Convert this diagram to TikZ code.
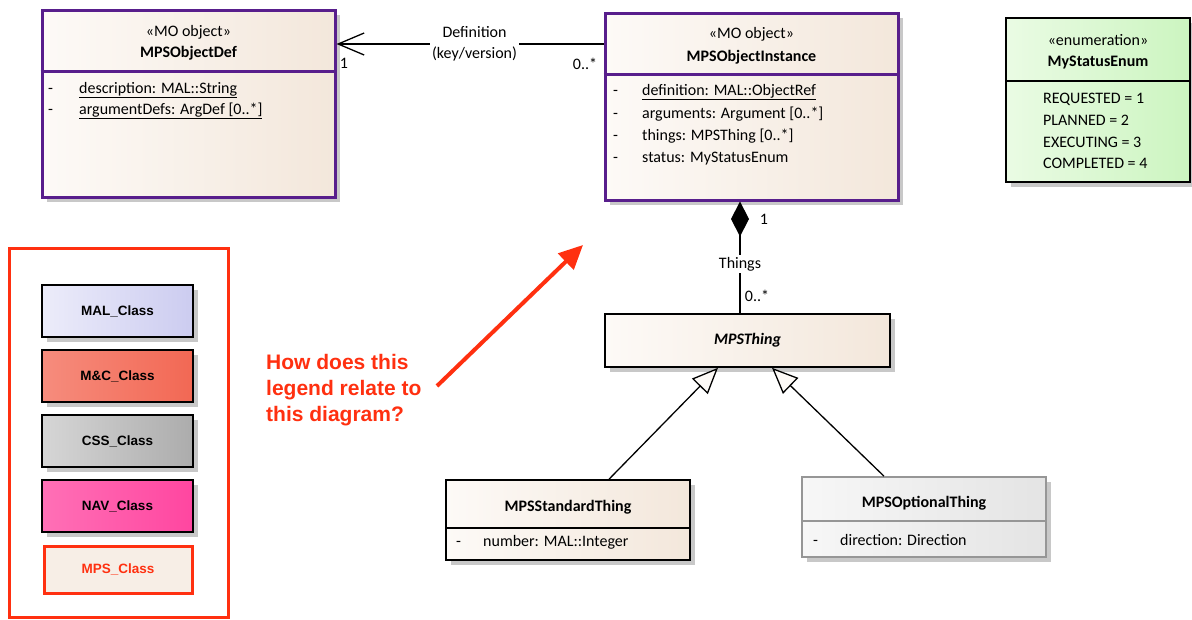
\documentclass[tikz,border=0pt]{standalone}
\usepackage{fontspec}
\setmainfont{Carlito}
\newfontfamily\legendfont{Liberation Sans}
\usetikzlibrary{arrows.meta,shadows}

\definecolor{moborder}{RGB}{88,30,140}
\definecolor{mpslight}{RGB}{253,250,247}
\definecolor{mpsdark}{RGB}{243,231,219}
\definecolor{enumlight}{RGB}{234,251,228}
\definecolor{enumdark}{RGB}{204,245,192}
\definecolor{optlight}{RGB}{247,247,247}
\definecolor{optdark}{RGB}{228,228,228}
\definecolor{optborder}{RGB}{150,150,150}
\definecolor{malleft}{RGB}{236,236,250}
\definecolor{malright}{RGB}{204,204,240}
\definecolor{mcleft}{RGB}{246,140,125}
\definecolor{mcright}{RGB}{242,104,84}
\definecolor{cssleft}{RGB}{214,214,214}
\definecolor{cssright}{RGB}{172,172,172}
\definecolor{navleft}{RGB}{255,112,182}
\definecolor{navright}{RGB}{255,70,160}
\definecolor{alertred}{RGB}{255,48,16}
\definecolor{shadowgrey}{RGB}{200,200,200}

\newcommand{\umlfont}{\fontsize{16}{21}\selectfont}

\begin{document}
\begin{tikzpicture}[
    x=1pt, y=-1pt,
    font=\umlfont,
    umlshadow/.style={drop shadow={shadow xshift=5pt, shadow yshift=-5pt, fill=shadowgrey, opacity=1}},
    moobj/.style={rectangle, draw=moborder, line width=3pt, left color=mpslight, right color=mpsdark, umlshadow},
    mpsbox/.style={rectangle, draw=black, line width=1.6pt, left color=mpslight, right color=mpsdark, umlshadow},
    enumbox/.style={rectangle, draw=black, line width=1.6pt, left color=enumlight, right color=enumdark, umlshadow},
    optbox/.style={rectangle, draw=optborder, line width=1.6pt, left color=optlight, right color=optdark, umlshadow},
    legbox/.style={rectangle, draw=black, line width=1.6pt, minimum width=151pt, minimum height=52pt, umlshadow, font=\legendfont\bfseries\fontsize{13.5}{16}\selectfont},
    moline/.style={draw=moborder, line width=3pt},
    txt/.style={anchor=base, inner sep=0pt},
    attr/.style={anchor=base west, inner sep=0pt},
    lbl/.style={inner sep=1pt},
    assoc/.style={line width=1.3pt},
    comp/.style={line width=1.3pt, -{Diamond[length=35pt, width=18pt]}},
    gen/.style={line width=1.3pt, -{Triangle[length=26pt, width=22pt, fill=mpslight]}},
    question/.style={align=left, inner sep=0pt, text=alertred, font=\legendfont\bfseries\fontsize{21}{26}\selectfont},
    alertarrow/.style={draw=alertred, line width=4pt, -{Triangle[length=24pt, width=22pt]}}
]
\useasboundingbox (0,0) rectangle (1192,619);

% MO object: definition
\node[moobj, minimum width=293pt, minimum height=187pt] (def) at (188.5,103.5) {};
\draw[moline] (def.west |- 0,71) -- (def.east |- 0,71);
\node[txt] (def-st) at (def.north |- 0,36) {«MO object»};
\node[txt, font=\umlfont\bfseries] (def-name) at (def.north |- 0,57) {MPSObjectDef};
\node[attr] (def-d1) at (48,93) {-};
\node[attr] (def-a1) at (79,93) {\underline{description: MAL::String}};
\node[attr] (def-d2) at (48,114) {-};
\node[attr] (def-a2) at (79,114) {\underline{argumentDefs: ArgDef [0..*]}};

% MO object: instance
\node[moobj, minimum width=293pt, minimum height=187pt] (inst) at (751.5,106.5) {};
\draw[moline] (inst.west |- 0,74) -- (inst.east |- 0,74);
\node[txt] (inst-st) at (inst.north |- 0,38) {«MO object»};
\node[txt, font=\umlfont\bfseries] (inst-name) at (inst.north |- 0,61) {MPSObjectInstance};
\node[attr] (inst-d1) at (613,95) {-};
\node[attr] (inst-a1) at (642,95) {\underline{definition: MAL::ObjectRef}};
\node[attr] (inst-d2) at (613,118) {-};
\node[attr] (inst-a2) at (642,118) {arguments: Argument [0..*]};
\node[attr] (inst-d3) at (613,140) {-};
\node[attr] (inst-a3) at (642,140) {things: MPSThing [0..*]};
\node[attr] (inst-d4) at (613,162) {-};
\node[attr] (inst-a4) at (642,162) {status: MyStatusEnum};

% Enumeration
\node[enumbox, minimum width=184pt, minimum height=164pt] (enum) at (1098,100) {};
\draw[line width=1.6pt] (enum.west |- 0,81) -- (enum.east |- 0,81);
\node[txt] (enum-st) at (enum.north |- 0,45) {«enumeration»};
\node[txt, font=\umlfont\bfseries] (enum-name) at (enum.north |- 0,66) {MyStatusEnum};
\node[attr] (enum-v1) at (1043,103) {REQUESTED = 1};
\node[attr] (enum-v2) at (1043,125) {PLANNED = 2};
\node[attr] (enum-v3) at (1043,147) {EXECUTING = 3};
\node[attr] (enum-v4) at (1043,168) {COMPLETED = 4};

% Things
\node[mpsbox, minimum width=285pt, minimum height=53pt, font=\umlfont\bfseries\itshape] (thing) at (747.5,340.5) {MPSThing};
\node[mpsbox, minimum width=244pt, minimum height=80pt] (std) at (568,520) {};
\draw[line width=1.6pt] (std.west |- 0,528) -- (std.east |- 0,528);
\node[txt, font=\umlfont\bfseries] (std-name) at (std.north |- 0,511) {MPSStandardThing};
\node[attr] (std-d1) at (456,546) {-};
\node[attr] (std-a1) at (483,546) {number: MAL::Integer};
\node[optbox, minimum width=244pt, minimum height=80pt] (opt) at (924,517) {};
\draw[draw=optborder, line width=1.6pt] (opt.west |- 0,521) -- (opt.east |- 0,521);
\node[txt, font=\umlfont\bfseries] (opt-name) at (opt.north |- 0,507) {MPSOptionalThing};
\node[attr] (opt-d1) at (813,545) {-};
\node[attr] (opt-a1) at (840,545) {direction: Direction};

% Connectors
\draw[assoc, -{Straight Barb[length=26pt, width=22pt]}] (inst.west |- 0,44) -- node[pos=0.483, fill=white, align=center, inner sep=2pt] (defn) {Definition\\(key/version)} (def.east |- 0,44);
\node[lbl] (defn-m1) at (344,63) {1};
\node[lbl] (defn-m2) at (585,64) {0..*};
\draw[comp] (thing.north -| 740,0) -- node[pos=0.44, fill=white, inner sep=2pt] (things) {Things} (inst.south -| 740,0);
\node[lbl] (things-m1) at (764,219) {1};
\node[lbl] (things-m2) at (757,296) {0..*};
\draw[gen] (std.north -| 609,0) -- (thing.south -| 718,0);
\draw[gen] (opt.north -| 884,0) -- (thing.south -| 772,0);

% Legend
\node[draw=alertred, line width=3pt, minimum width=219pt, minimum height=369pt] (legend) at (118.5,432.5) {};
\node[legbox, left color=malleft, right color=malright] (mal) at (117.5,311) {MAL\_Class};
\node[legbox, left color=mcleft, right color=mcright] (mc) at (117.5,376) {M\&C\_Class};
\node[legbox, left color=cssleft, right color=cssright] (css) at (117.5,441) {CSS\_Class};
\node[legbox, left color=navleft, right color=navright] (nav) at (117.5,506) {NAV\_Class};
\node[rectangle, draw=alertred, line width=3pt, fill=mpsdark!70!white, minimum width=148pt, minimum height=47pt, text=alertred, font=\legendfont\bfseries\fontsize{13.5}{16}\selectfont] (mps) at (118,569.5) {MPS\_Class};

% Question
\node[question, anchor=north west] (ask) at (266,354) {How does this\\legend relate to\\this diagram?};
\coordinate (ask-tail) at (437,386);
\coordinate (ask-tip) at (583,245);
\draw[alertarrow] (ask-tail) -- (ask-tip);
\end{tikzpicture}
\end{document}
